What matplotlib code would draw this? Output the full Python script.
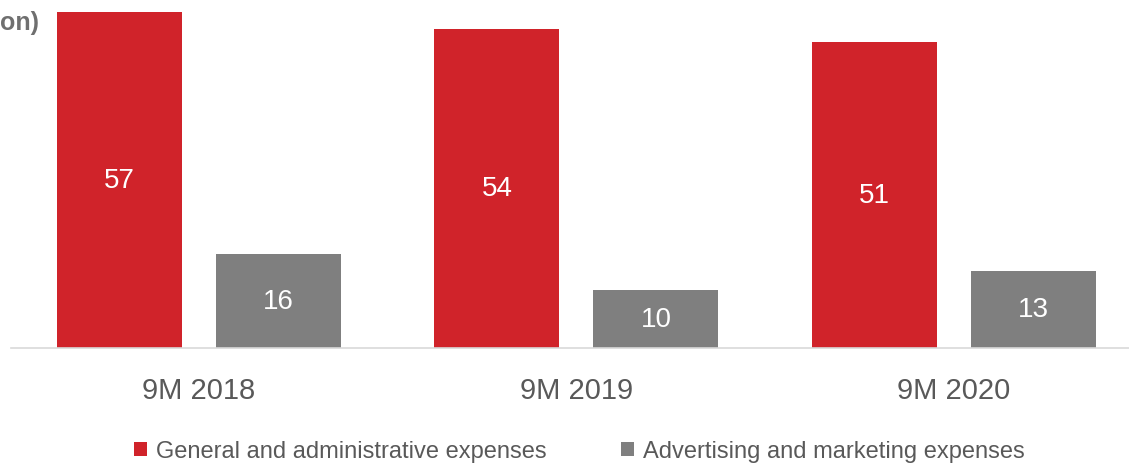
import matplotlib.pyplot as plt
import numpy as np

# data
periods = ["9M 2018", "9M 2019", "9M 2020"]
general_admin = [57, 54.2, 52.0]
advertising = [16, 9.9, 13.1]
general_labels = ["57", "54", "51"]
advertising_labels = ["16", "10", "13"]
series_names = ["General and administrative expenses", "Advertising and marketing expenses"]

red = "#D0232A"
grey = "#7F7F7F"
txt = "#595959"

plt.rcParams['font.family'] = ['Liberation Sans', 'DejaVu Sans']

fig = plt.figure(figsize=(11.29, 4.64), dpi=100)
ax = fig.add_axes([11/1129, 115/464, 1118/1129, 349/464])

x = np.arange(len(periods))
w = 0.331
off = 0.2106
b1 = ax.bar(x - off, general_admin, w, color=red, label=series_names[0])
b2 = ax.bar(x + off, advertising, w, color=grey, label=series_names[1])

for bars, labs in ((b1, general_labels), (b2, advertising_labels)):
    for r, lab in zip(bars, labs):
        h = r.get_height()
        ax.text(r.get_x() + r.get_width()/2, h/2, lab, ha='center', va='center',
                color='white', fontsize=20)

ax.set_xlim(-0.498, 2.464)
ax.set_ylim(0, 59.25)
ax.set_yticks([])
ax.set_xticks(x)
ax.set_xticklabels(periods, fontsize=21, color=txt)
ax.tick_params(axis='x', length=0, pad=20)
for s in ['top', 'right', 'left']:
    ax.spines[s].set_visible(False)
ax.spines['bottom'].set_color('#D9D9D9')
ax.spines['bottom'].set_linewidth(1.2)

fig.legend(handles=[b1, b2], loc='center', bbox_to_anchor=(579/1129, 1 - 452/464), ncol=2,
           frameon=False, fontsize=17, labelcolor=txt, handlelength=0.55, handleheight=0.55,
           handletextpad=0.38, columnspacing=3.15)

fig.text(0, 1 - 23/464, "on)", fontsize=18, fontweight='bold', color="#6F6F6F", ha='left', va='center')

fig.savefig("out.png", dpi=100)
